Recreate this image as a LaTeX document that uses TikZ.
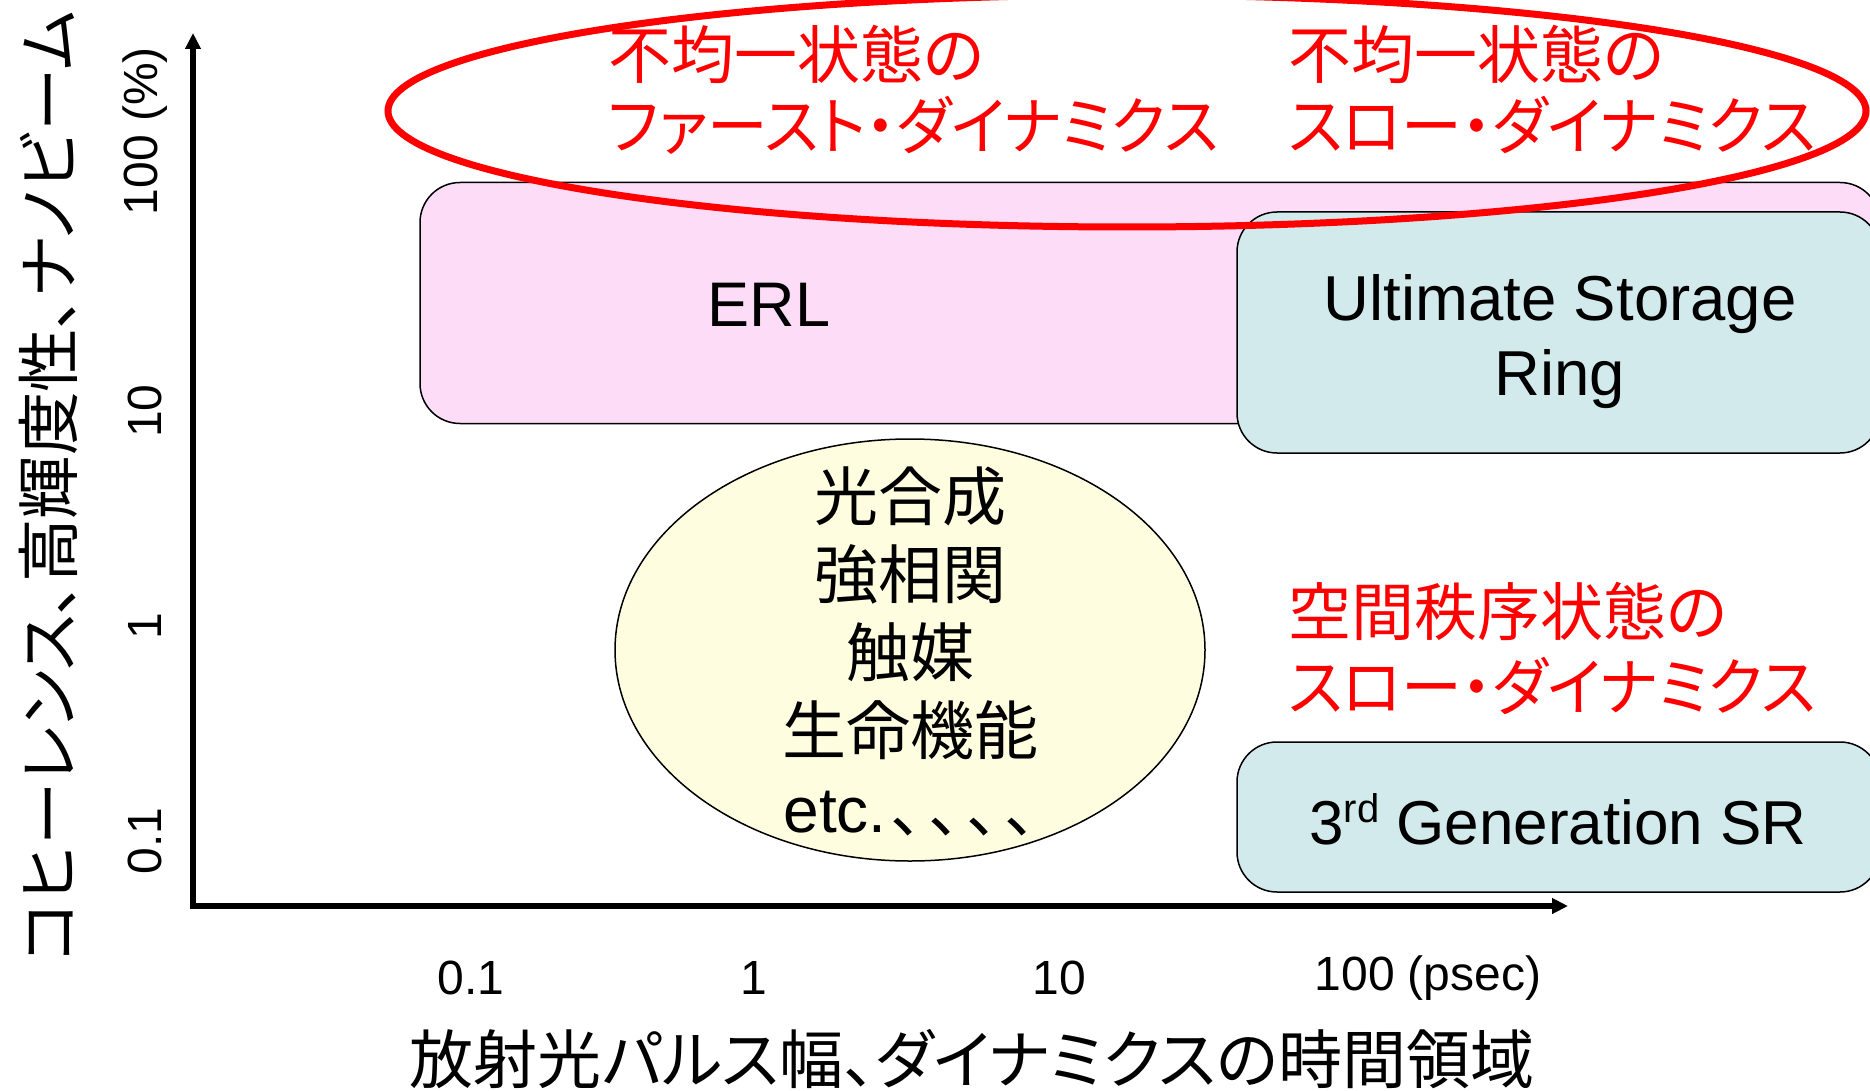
\documentclass[tikz,border=0pt]{standalone}
\usepackage{fontspec}
\setmainfont{Liberation Sans}
\newfontfamily\jp[RawFeature=+palt]{Noto Sans CJK JP}
\usetikzlibrary{arrows.meta,shapes.geometric}
\definecolor{pinkfill}{RGB}{253,220,248}
\definecolor{bluefill}{RGB}{210,234,236}
\definecolor{yelfill}{RGB}{255,253,224}
\definecolor{redtxt}{RGB}{255,0,0}
\tikzset{
  box/.style={draw=black, line width=1.5pt, rounded corners=40pt, inner sep=0pt},
  redlbl/.style={text=redtxt, font=\jp\fontsize{63}{75}\selectfont, anchor=west, inner sep=0pt},
  blk/.style={text=black, inner sep=0pt},
  axis/.style={line width=6pt, -{Triangle[length=16pt,width=15pt]}},
  tick/.style={font=\fontsize{48}{56}\selectfont, inner sep=0pt},
}
\begin{document}
\begin{tikzpicture}[x=1pt,y=-1pt]
\useasboundingbox (0,0) rectangle (1870,1091);
\fill[white] (0,0) rectangle (1870,1091);
\begin{scope}
\clip (0,0) rectangle (1870,1091);
% boxes
\node[box, fill=pinkfill, minimum width=1460pt, minimum height=241pt] (erlbox) at (1150,303) {};
\node[box, fill=bluefill, minimum width=643pt, minimum height=241pt] (usrbox) at (1558.5,332.5) {};
\node[box, fill=bluefill, minimum width=643pt, minimum height=150pt] (sgbox) at (1558.5,817) {};
% red ellipse
\node[draw=redtxt, line width=7pt, ellipse, minimum width=1478pt, minimum height=232pt, inner sep=0pt] (redell) at (1127,111) {};
% yellow ellipse
\node[draw=black, line width=1.5pt, fill=yelfill, ellipse, minimum width=590pt, minimum height=422pt, inner sep=0pt] (yelell) at (910,650) {};
\end{scope}
% axes
\coordinate (origin) at (193,906);
\coordinate (ytip) at (193,33);
\coordinate (xtip) at (1568,906);
\draw[axis] ([yshift=3pt]origin) -- (ytip);
\draw[axis] ([xshift=-3pt]origin) -- (xtip);
% texts in boxes
\node[blk, font=\fontsize{63}{75}\selectfont] (erl) at (769,305) {ERL};
\node[blk, font=\fontsize{63.5}{75}\selectfont, align=center] (usr) at (1560,342) {Ultimate Storage\\Ring};
\node[blk, font=\fontsize{62}{75}\selectfont] (sg) at (1558,819) {3\raisebox{0.36em}{\fontsize{40}{40}\selectfont rd} Generation SR};
% red labels
\node[redlbl] (r1a) at (608,54) {不均一状態の};
\node[redlbl] (r1b) at (608,125) {\scalebox{0.962}[1]{ファースト・ダイナミクス}};
\node[redlbl] (r2a) at (1288,54) {不均一状態の};
\node[redlbl] (r2b) at (1288,125) {\scalebox{0.965}[1]{スロー・ダイナミクス}};
\node[redlbl] (r3a) at (1288,611) {空間秩序状態の};
\node[redlbl] (r3b) at (1288,686) {\scalebox{0.965}[1]{スロー・ダイナミクス}};
% ellipse text
\node[blk, font=\jp\fontsize{64}{78}\selectfont, align=center] (app) at (910,651) {光合成\\強相関\\触媒\\生命機能\\{\rmfamily etc.}\kern4pt、\kern6pt、\kern6pt、\kern6pt、};
% y ticks
\node[tick, rotate=90] (y100) at (145,131) {100 (\%)};
\node[tick, rotate=90] (y10) at (145,411) {10};
\node[tick, rotate=90] (y1) at (145,626) {1};
\node[tick, rotate=90] (y01) at (145,841) {0.1};
% x ticks
\node[tick] (x01) at (471,978) {0.1};
\node[tick] (x1) at (754,978) {1};
\node[tick] (x10) at (1059,978) {10};
\node[tick] (x100) at (1428,978) {100 (psec)};
% axis titles
\node[blk, rotate=90, font=\jp\fontsize{63.5}{70}\selectfont] (ytitle) at (48,487) {コヒーレンス、高輝度性、ナノビーム};
\node[blk, font=\jp\fontsize{64}{70}\selectfont] (xtitle) at (972,1059) {放射光パルス幅、ダイナミクスの時間領域};
\end{tikzpicture}
\end{document}
